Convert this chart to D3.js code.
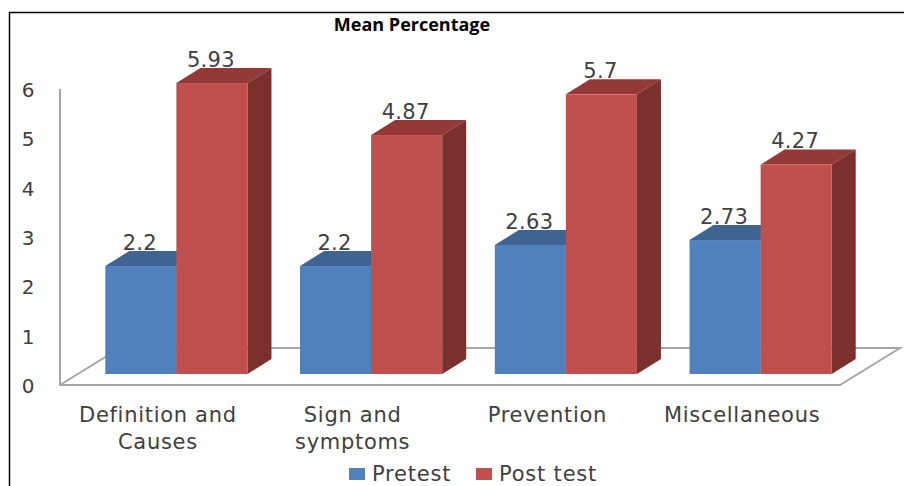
<!DOCTYPE html>
<html>
<head>
<meta charset="utf-8">
<script src="https://cdn.jsdelivr.net/npm/d3@7"></script>
<style>
html, body { margin: 0; padding: 0; background: #fff; overflow: hidden; }
text { font-family: "DejaVu Sans", sans-serif; fill: #404040; }
</style>
</head>
<body>
<div id="chart"></div>
<script>
var categories = [["Definition and", "Causes"], ["Sign and", "symptoms"], ["Prevention"], ["Miscellaneous"]];
var seriesNames = ["Pretest", "Post test"];
var pretest = [2.2, 2.2, 2.63, 2.73];
var posttest = [5.93, 4.87, 5.7, 4.27];
var yTicks = [0, 1, 2, 3, 4, 5, 6];

var colors = {
  "Pretest": {front: "#4f81bd", top: "#3f6491", side: "#345a85"},
  "Post test": {front: "#c0504d", top: "#933937", side: "#7b302e"}
};

var width = 904, height = 486;
var depthX = 24, depthY = 15;   // bar depth
var floorX = 60, floorY = 37;   // floor depth

var svg = d3.select("#chart").append("svg")
  .attr("width", width)
  .attr("height", height);

// frame round the picture
svg.append("path")
  .attr("d", "M9.5,486V12.5H904")
  .attr("fill", "none")
  .attr("stroke", "#000")
  .attr("stroke-width", 1.5);

// scales
var x0 = d3.scaleBand()
  .domain(d3.range(categories.length))
  .range([79, 858])
  .paddingInner(0.27)
  .paddingOuter(0.135);

var x1 = d3.scaleBand()
  .domain(seriesNames)
  .range([0, x0.bandwidth()]);

var y = d3.scaleLinear().domain([0, 6]).range([374, 79.6]);
var yWall = d3.scaleLinear().domain([0, 6]).range([385, 89]);

// floor and wall
svg.append("path")
  .attr("d", "M60,89V" + yWall(0) + "H840L" + (840 + floorX) + "," + (yWall(0) - floorY) +
    "H" + (60 + floorX) + "L60," + yWall(0))
  .attr("fill", "#fff")
  .attr("stroke", "#a6a6a6")
  .attr("stroke-width", 2);

// y axis
var yAxis = svg.append("g")
  .attr("transform", "translate(28,1)")
  .call(d3.axisLeft(yWall).tickValues(yTicks).tickFormat(d3.format("d")).tickSize(0).tickPadding(0));
yAxis.select(".domain").remove();
yAxis.selectAll("text")
  .attr("text-anchor", "middle")
  .style("font-size", "20px")
  .style("font-family", '"DejaVu Sans", sans-serif');

// bars
var rows = [];
categories.forEach(function(c, i) {
  rows.push({i: i, name: "Pretest", value: pretest[i]});
  rows.push({i: i, name: "Post test", value: posttest[i]});
});

var bar = svg.selectAll(".bar")
  .data(rows)
  .enter().append("g")
    .attr("class", "bar")
    .attr("transform", function(d) { return "translate(" + (x0(d.i) + x1(d.name)) + ",0)"; });

bar.append("path")
  .attr("fill", function(d) { return colors[d.name].top; })
  .attr("d", function(d) {
    var w = x1.bandwidth(), t = y(d.value);
    return "M0," + t + "l" + depthX + "," + (-depthY) + "h" + w + "l" + (-depthX) + "," + depthY + "z";
  });

bar.append("path")
  .attr("fill", function(d) { return colors[d.name].side; })
  .attr("d", function(d) {
    var w = x1.bandwidth(), t = y(d.value), b = y(0);
    return "M" + w + "," + t + "l" + depthX + "," + (-depthY) + "V" + (b - depthY) + "l" + (-depthX) + "," + depthY + "z";
  });

bar.append("rect")
  .attr("fill", function(d) { return colors[d.name].front; })
  .attr("y", function(d) { return y(d.value); })
  .attr("width", x1.bandwidth())
  .attr("height", function(d) { return y(0) - y(d.value); });

// value labels
bar.append("text")
  .attr("x", x1.bandwidth() / 2 - 1)
  .attr("y", function(d) { return y(d.value) - 16; })
  .attr("text-anchor", "middle")
  .style("font-size", "21px")
  .style("letter-spacing", "0.3px")
  .text(function(d) { return d.value; });

// category labels
var cat = svg.selectAll(".cat")
  .data(categories)
  .enter().append("text")
    .attr("class", "cat")
    .attr("text-anchor", "middle")
    .attr("x", function(d, i) { return x0(i) + x0.bandwidth() / 2 - 18.5; })
    .attr("y", 422)
    .style("font-size", "21px")
    .style("letter-spacing", "0.7px");
cat.selectAll("tspan")
  .data(function(d) { return d; })
  .enter().append("tspan")
    .attr("x", function() { return this.parentNode.getAttribute("x"); })
    .attr("dy", function(d, i) { return i ? 27 : 0; })
    .text(function(d) { return d; });

// title
svg.append("text")
  .attr("x", 412)
  .attr("y", 31)
  .attr("text-anchor", "middle")
  .style("font-family", '"Open Sans", sans-serif')
  .style("font-weight", 700)
  .style("font-size", "18px")
  .style("fill", "#000")
  .text("Mean Percentage");

// legend
var legendX = [349, 476];
var legend = svg.selectAll(".legend")
  .data(seriesNames)
  .enter().append("g")
    .attr("class", "legend")
    .attr("transform", function(d, i) { return "translate(" + legendX[i] + ",468)"; });
legend.append("rect")
  .attr("width", 16)
  .attr("height", 12)
  .attr("fill", function(d) { return colors[d].front; });
legend.append("text")
  .attr("x", 23)
  .attr("y", 13)
  .style("font-size", "21px")
  .style("letter-spacing", "0.8px")
  .text(function(d) { return d; });
</script>
</body>
</html>
